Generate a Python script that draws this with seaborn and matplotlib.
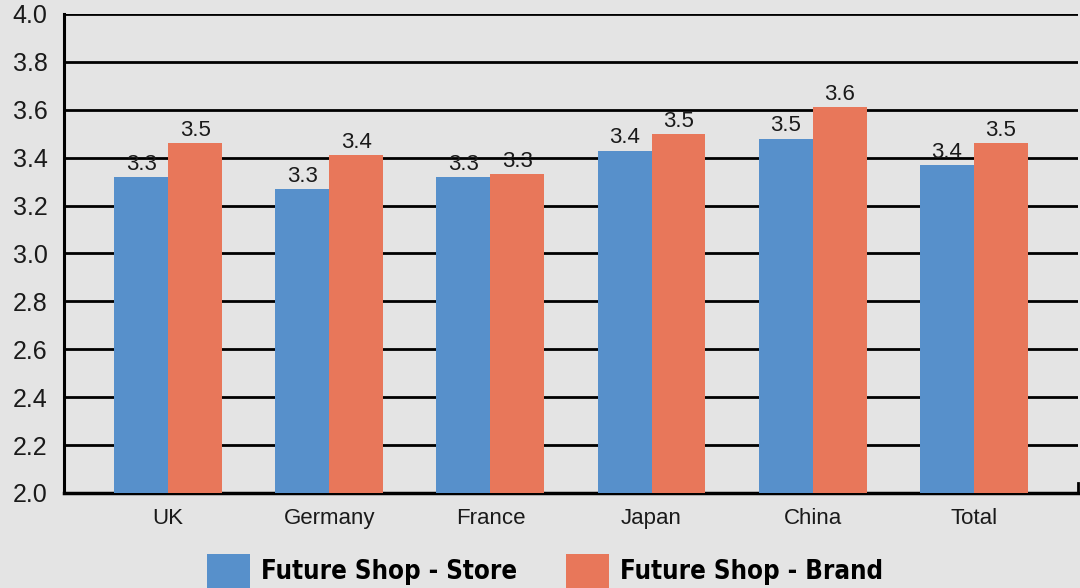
import matplotlib
matplotlib.use("Agg")
import matplotlib.pyplot as plt
import pandas as pd
import seaborn as sns
from matplotlib.patches import Patch

# Satisfaction scores by market
markets = ["UK", "Germany", "France", "Japan", "China", "Total"]
store_scores = [3.32, 3.27, 3.32, 3.43, 3.48, 3.37]
brand_scores = [3.46, 3.41, 3.33, 3.50, 3.61, 3.46]
series_names = ["Future Shop - Store", "Future Shop - Brand"]
y_ticks = [2.0, 2.2, 2.4, 2.6, 2.8, 3.0, 3.2, 3.4, 3.6, 3.8, 4.0]

BG = "#e4e4e4"
BLUE = "#5790cb"
ORANGE = "#e8775a"

df = pd.DataFrame({
    "Market": markets * 2,
    "Score": store_scores + brand_scores,
    "Series": [series_names[0]] * len(markets) + [series_names[1]] * len(markets),
})

sns.set_style("white")
plt.rcParams["font.family"] = ["Liberation Sans", "DejaVu Sans"]

fig = plt.figure(figsize=(10.8, 5.88), dpi=100, facecolor=BG)
ax = fig.add_axes([0.0593, 0.1616, 0.9387, 0.8146])
ax.set_facecolor(BG)

sns.barplot(data=df, x="Market", y="Score", hue="Series", order=markets,
            hue_order=series_names, palette=[BLUE, ORANGE], width=0.67,
            saturation=1, gap=0, ax=ax, legend=False, zorder=3,
            edgecolor="none", linewidth=0)

for container in ax.containers:
    vals = container.datavalues
    ax.bar_label(container, labels=[f"{v:.1f}" for v in vals], padding=1.5,
                 fontsize=16, color="#1a1a1a", zorder=4)

ax.set_ylim(2.0, 4.0)
ax.set_xlim(-0.646, 5.646)
ax.set_yticks(y_ticks)
ax.set_yticklabels([f"{t:.1f}" for t in y_ticks], fontsize=18, color="#1a1a1a")
ax.tick_params(axis="y", length=0, pad=12)
ax.tick_params(axis="x", length=0, pad=10.5, labelsize=16, labelcolor="#1a1a1a")
ax.set_xlabel("")
ax.set_ylabel("")

ax.yaxis.grid(True, color="black", linewidth=2.0, zorder=1)
ax.set_axisbelow(True)
ax.spines["top"].set_visible(False)
ax.spines["right"].set_color("black")
ax.spines["right"].set_linewidth(2.0)
ax.spines["right"].set_bounds(2.0, 2.04)
ax.spines["left"].set_color("black")
ax.spines["left"].set_linewidth(2.2)
ax.spines["bottom"].set_color("black")
ax.spines["bottom"].set_linewidth(2.5)

# Legend along the bottom edge
handles = [Patch(facecolor=BLUE, edgecolor="none"),
           Patch(facecolor=ORANGE, edgecolor="none")]
fig.legend(handles, series_names, loc="lower center", ncol=2,
           bbox_to_anchor=(0.505, -0.039), frameon=False,
           prop={"family": "DejaVu Sans", "stretch": "condensed",
                 "weight": "heavy", "size": 18.5},
           labelcolor="black",
           handlelength=1.65, handleheight=1.65, handletextpad=0.45,
           columnspacing=1.9)

fig.savefig("out.png", dpi=100, facecolor=BG)
